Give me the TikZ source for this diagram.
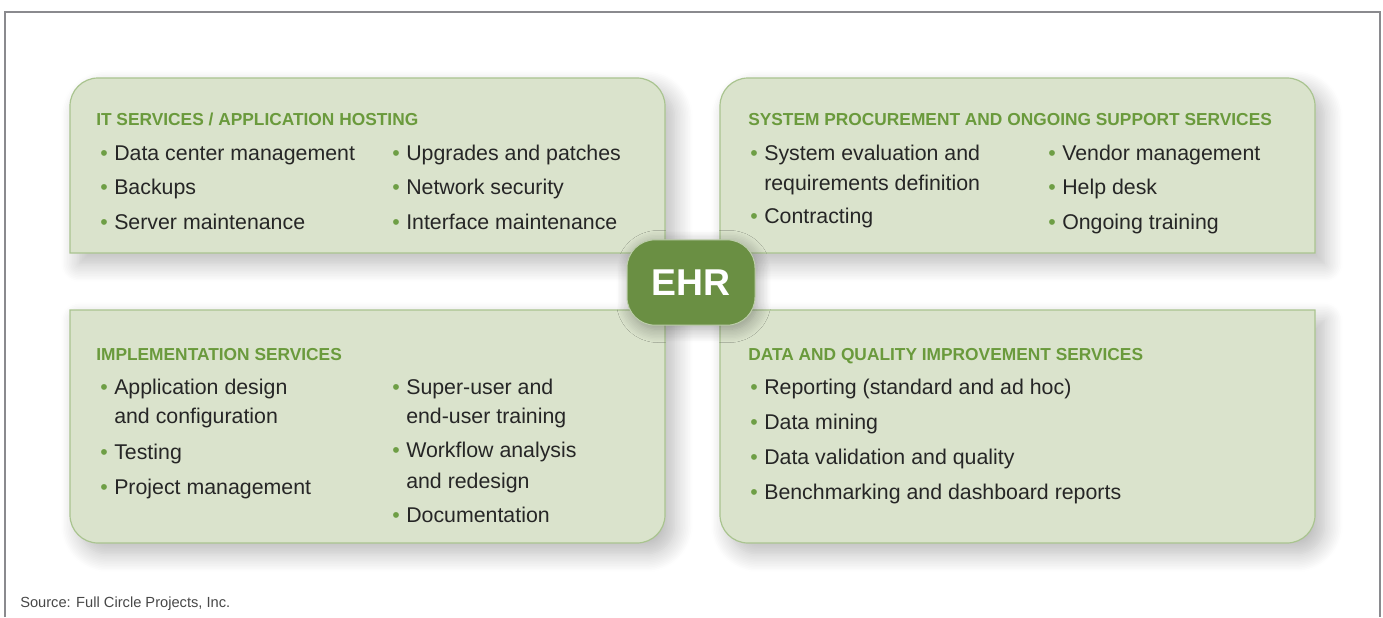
\documentclass[tikz,border=0pt]{standalone}
\usepackage{fontspec}
\setmainfont{Liberation Sans}
\usetikzlibrary{shadows.blur}
\definecolor{panelfill}{HTML}{DAE3CC}
\definecolor{paneledge}{HTML}{A9C48F}
\definecolor{headgreen}{HTML}{6A9A3C}
\definecolor{dotgreen}{HTML}{6E9E45}
\definecolor{ehrgreen}{HTML}{6A8F43}
\definecolor{itemtext}{HTML}{262626}
\definecolor{framegray}{HTML}{8A8A8E}
\newcommand{\bul}{\makebox[10.5pt][l]{\textcolor{dotgreen}{\textbullet}}}
\newcommand{\indt}{\hspace*{10.5pt}}
\begin{document}
\begin{tikzpicture}[x=0.75pt,y=-0.75pt,
		panel/.style={fill=panelfill,draw=paneledge,line width=0.9pt,
			blur shadow={shadow xshift=7pt,shadow yshift=-8pt,shadow blur radius=14pt,shadow blur steps=12,shadow opacity=28}},
		heading/.style={anchor=base west,inner sep=0pt,text=headgreen,font=\fontsize{13}{15}\selectfont\bfseries},
		item/.style={anchor=base west,inner sep=0pt,text=itemtext,font=\fontsize{16}{19}\selectfont},
		hub/.style={fill=ehrgreen,draw=ehrgreen!45!white,line width=0.75pt,rounded corners=21pt,
			minimum width=96pt,minimum height=64pt,text=white,font=\fontsize{28}{30}\selectfont\bfseries,
			blur shadow={shadow xshift=2pt,shadow yshift=-3pt,shadow blur radius=10pt,shadow blur steps=10,shadow opacity=35}},
		source/.style={anchor=base west,inner sep=0pt,text=itemtext!85,font=\fontsize{11}{13}\selectfont}]
		\useasboundingbox (0,0) rectangle (1383,617);
		
		% outer frame
		\draw[framegray,line width=1.8pt] (5,617) -- (5,12) -- (1380,12) -- (1380,617);
		
		% four service panels
		\draw[panel] (70,253) [rounded corners=21pt] -- (70,78) -- (665,78) [sharp corners] -- (665,253) -- cycle;
		\draw[panel] (720,253) [rounded corners=21pt] -- (720,78) -- (1315,78) [sharp corners] -- (1315,253) -- cycle;
		\draw[panel] (665,310) [rounded corners=21pt] -- (665,543) -- (70,543) [sharp corners] -- (70,310) -- cycle;
		\draw[panel] (1315,310) [rounded corners=21pt] -- (1315,543) -- (720,543) [sharp corners] -- (720,310) -- cycle;
		
		% IT services
		\node[heading] (itHead) at (96,125) {IT SERVICES / APPLICATION HOSTING};
		\node[item] (itA) at (100,160) {\bul Data center management};
		\node[item] (itB) at (100,194.5) {\bul Backups};
		\node[item] (itC) at (100,229) {\bul Server maintenance};
		\node[item] (itD) at (392,160) {\bul Upgrades and patches};
		\node[item] (itE) at (392,194.5) {\bul Network security};
		\node[item] (itF) at (392,229) {\bul Interface maintenance};
		
		% procurement and support
		\node[heading] (spHead) at (748,125) {SYSTEM PROCUREMENT AND ONGOING SUPPORT SERVICES};
		\node[item] (spA) at (750,160) {\bul System evaluation and};
		\node[item] (spA2) at (750,190) {\indt requirements definition};
		\node[item] (spB) at (750,223) {\bul Contracting};
		\node[item] (spC) at (1048,160) {\bul Vendor management};
		\node[item] (spD) at (1048,194.5) {\bul Help desk};
		\node[item] (spE) at (1048,229) {\bul Ongoing training};
		
		% implementation
		\node[heading] (imHead) at (96,360) {IMPLEMENTATION SERVICES};
		\node[item] (imA) at (100,394) {\bul Application design};
		\node[item] (imA2) at (100,423) {\indt and configuration};
		\node[item] (imB) at (100,459) {\bul Testing};
		\node[item] (imC) at (100,494) {\bul Project management};
		\node[item] (imD) at (392,394) {\bul Super-user and};
		\node[item] (imD2) at (392,423) {\indt end-user training};
		\node[item] (imE) at (392,457) {\bul Workflow analysis};
		\node[item] (imE2) at (392,488) {\indt and redesign};
		\node[item] (imF) at (392,522) {\bul Documentation};
		
		% data and quality
		\node[heading] (dqHead) at (748,360) {DATA AND QUALITY IMPROVEMENT SERVICES};
		\node[item] (dqA) at (750,394) {\bul Reporting (standard and ad hoc)};
		\node[item] (dqB) at (750,429) {\bul Data mining};
		\node[item] (dqC) at (750,464) {\bul Data validation and quality};
		\node[item] (dqD) at (750,499) {\bul Benchmarking and dashboard reports};
		
		\node[hub] (ehr) at (691,282.5) {EHR};
		
		\node[source] (src) at (20,607) {Source: Full Circle Projects, Inc.};
		
\end{tikzpicture}
\end{document}
